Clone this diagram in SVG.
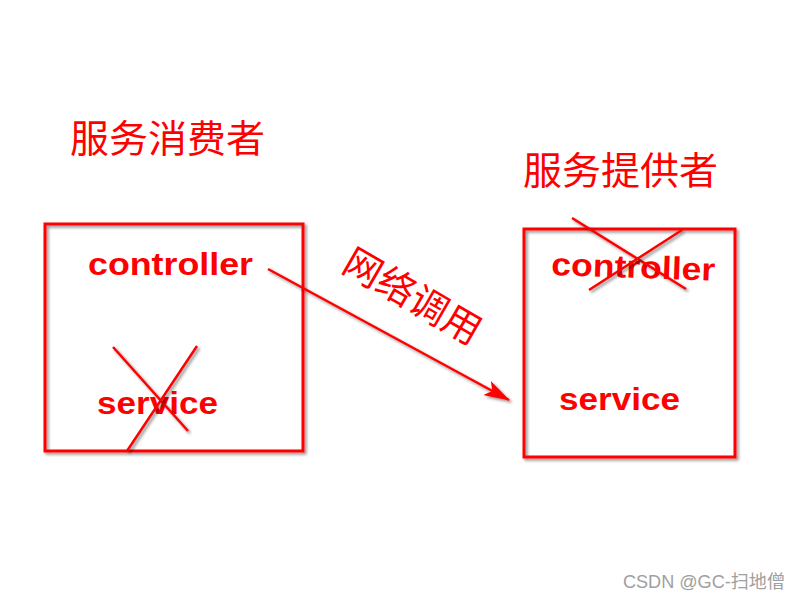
<svg xmlns="http://www.w3.org/2000/svg" width="800" height="600" viewBox="0 0 800 600">
<defs>
<filter id="sh" x="-20%" y="-20%" width="140%" height="140%">
<feDropShadow dx="2" dy="2" stdDeviation="1.5" flood-color="#000" flood-opacity="0.45"/>
</filter>
<marker id="ah2" viewBox="0 0 26 16" refX="25" refY="8" markerWidth="26" markerHeight="16" orient="auto" markerUnits="userSpaceOnUse">
<path d="M0,0 L26,8 L0,16 L6,8 Z" fill="#ff0000"/>
</marker>
</defs>
<style>
.box{fill:none;stroke:#ff0000;stroke-width:3;filter:url(#sh)}
.x{stroke:#ff0000;stroke-width:2.5;filter:url(#sh)}
.lbl{font-family:"Liberation Sans",Arial,sans-serif;font-weight:bold;font-size:32px;fill:#ff0000}
.cjk{font-family:"Noto Sans CJK SC",sans-serif;fill:#ff0000}
.wm{font-family:"Liberation Sans","Noto Sans CJK SC",sans-serif;font-size:18px;fill:#a0a0a0}
</style>
<rect width="800" height="600" fill="#ffffff"/>

<text class="cjk" x="70" y="152" font-size="38" textLength="195" lengthAdjust="spacingAndGlyphs">服务消费者</text>
<text class="cjk" x="523" y="184" font-size="38" textLength="195" lengthAdjust="spacingAndGlyphs">服务提供者</text>

<g id="consumer">
<rect class="box" x="45" y="224" width="258" height="227"/>
<text class="lbl" x="88" y="275" textLength="165" lengthAdjust="spacingAndGlyphs">controller</text>
<text class="lbl" x="97" y="414" textLength="121" lengthAdjust="spacingAndGlyphs">service</text>
<line class="x" x1="113" y1="347" x2="188" y2="431"/>
<line class="x" x1="197" y1="346" x2="127" y2="451"/>
</g>

<g id="provider">
<rect class="box" x="524" y="229" width="211" height="228"/>
<text class="lbl" x="551" y="275" textLength="164" lengthAdjust="spacingAndGlyphs" transform="rotate(2 551 275)">controller</text>
<text class="lbl" x="559" y="410" textLength="121" lengthAdjust="spacingAndGlyphs">service</text>
<line class="x" x1="572" y1="218" x2="686" y2="289"/>
<line class="x" x1="682" y1="230" x2="589" y2="290"/>
</g>

<g id="connectors">
<line x1="268" y1="269" x2="509" y2="400" stroke="#ff0000" stroke-width="2.5" marker-end="url(#ah2)" filter="url(#sh)"/>
<text class="cjk" x="0" y="0" font-size="38" transform="translate(340 270) rotate(30)">网络调用</text>
</g>

<text class="wm" x="623" y="588" textLength="162" lengthAdjust="spacingAndGlyphs">CSDN @GC-扫地僧</text>
</svg>
